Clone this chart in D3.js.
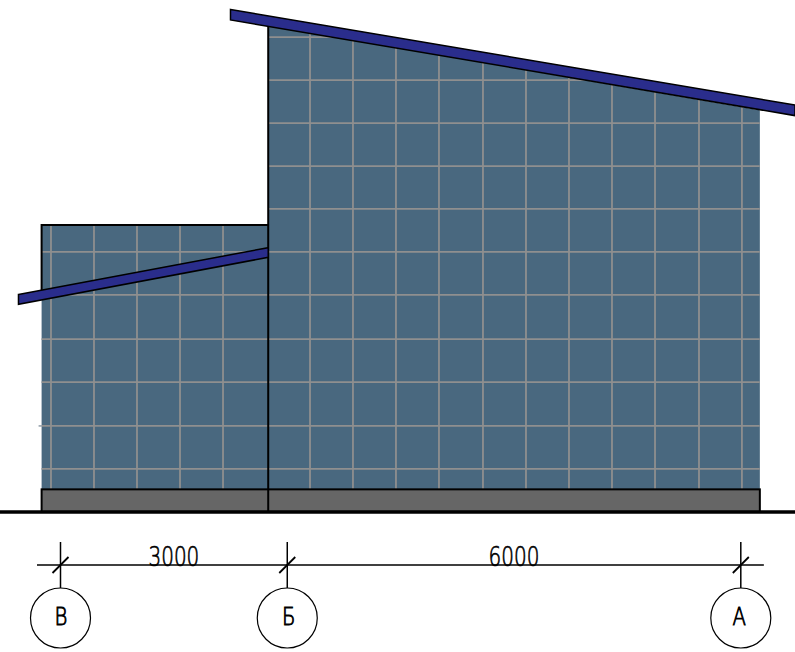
<!DOCTYPE html>
<html>
<head>
<meta charset="utf-8">
<script src="https://d3js.org/d3.v7.min.js"></script>
<style>
html, body { margin: 0; padding: 0; background: #fff; overflow: hidden; }
svg { display: block; }
text { font-family: "DejaVu Sans", sans-serif; fill: #000; text-anchor: middle; }
</style>
</head>
<body>
<div id="drawing"></div>
<script>
// all values in mm
var axisNames = ["В", "Б", "А"];
var axisPositions = [0, 3000, 9000];
var spanLabels = ["3000", "6000"];

var lowWallX = [-250, 2748];
var lowWallTop = 3800;
var highWallX = [2748, 9252];
var highWallTop = [6440, 5320];
var plinthHeight = 300;

var lowGridX = [-126, 443, 1012, 1581, 2150];
var lowGridY = [570, 1140, 1720, 2290, 2875, 3445];
var highGridX = [3301, 3869, 4438, 5007, 5589, 6158, 6727, 7296, 7865, 8447, 9015];
var highGridY = [570, 1140, 1720, 2290, 2875, 3445, 4015, 4580, 5150, 5720, 6290];
var gridStub = [-290, -250, 1140];

var upperRoofX = [2249, 9717, 9717, 2249];
var upperRoofY = [6656, 5391, 5250, 6517];
var lowerRoofX = [-556, 2748, 2748, -556];
var lowerRoofY = [2881, 3501, 3373, 2751];

var svgWidth = 795;
var svgHeight = 652;
var groundY = 512;
var dimY = 565;
var bubbleY = 618;
// letters are not quite centred in their bubbles
var nameShift = [0.5, 1.5, -1.5];

var svg = d3.select("#drawing")
    .append("svg")
    .attr("width", svgWidth)
    .attr("height", svgHeight);

// same scale on both directions, about 0.0755 px per mm
var xScale = d3.scaleLinear().domain([0, 9000]).range([60.5, 740.8]);
var yScale = d3.scaleLinear().domain([0, 6000]).range([groundY, groundY - 453]);

function polygonPath(xs, ys) {
    return d3.line().x(d => xScale(d[0])).y(d => yScale(d[1]))(d3.zip(xs, ys)) + "Z";
}

var lowWall = polygonPath(
    [lowWallX[0], lowWallX[1], lowWallX[1], lowWallX[0]],
    [0, 0, lowWallTop, lowWallTop]);
var highWall = polygonPath(
    [highWallX[0], highWallX[1], highWallX[1], highWallX[0]],
    [0, 0, highWallTop[1], highWallTop[0]]);

var defs = svg.append("defs");
defs.append("clipPath").attr("id", "lowClip").append("path").attr("d", lowWall);
defs.append("clipPath").attr("id", "highClip").append("path").attr("d", highWall);

// wall cladding
function drawWall(path, clipId, gridX, gridY) {
    svg.append("path").attr("d", path).attr("fill", "#49687f");

    var grid = svg.append("g")
        .attr("clip-path", `url(#${clipId})`)
        .attr("stroke", "#8f8f8f")
        .attr("stroke-width", 1.8);

    grid.selectAll(".v")
        .data(gridX)
        .enter()
        .append("line")
        .attr("x1", d => xScale(d))
        .attr("x2", d => xScale(d))
        .attr("y1", 0)
        .attr("y2", svgHeight);

    grid.selectAll(".h")
        .data(gridY)
        .enter()
        .append("line")
        .attr("x1", 0)
        .attr("x2", svgWidth)
        .attr("y1", d => yScale(d))
        .attr("y2", d => yScale(d));
}

drawWall(lowWall, "lowClip", lowGridX, lowGridY);
drawWall(highWall, "highClip", highGridX, highGridY);

// small overshoot of one grid line past the left wall
svg.append("line")
    .attr("x1", xScale(gridStub[0]))
    .attr("x2", xScale(gridStub[1]))
    .attr("y1", yScale(gridStub[2]))
    .attr("y2", yScale(gridStub[2]))
    .attr("stroke", "#8f9ba6")
    .attr("stroke-width", 1.5);

// outline of the low wall, only down to the roof on the left side
svg.append("path")
    .attr("d", d3.line()([
        [xScale(lowWallX[0]), yScale(lowerRoofY[0] + 50)],
        [xScale(lowWallX[0]), yScale(lowWallTop)],
        [xScale(lowWallX[1]), yScale(lowWallTop)]
    ]))
    .attr("fill", "none")
    .attr("stroke", "#000")
    .attr("stroke-width", 2);

// plinth
svg.append("rect")
    .attr("x", xScale(lowWallX[0]))
    .attr("y", yScale(plinthHeight))
    .attr("width", xScale(highWallX[1]) - xScale(lowWallX[0]))
    .attr("height", yScale(0) - yScale(plinthHeight))
    .attr("fill", "#666")
    .attr("stroke", "#000")
    .attr("stroke-width", 2);

// wall between the two volumes
svg.append("line")
    .attr("x1", xScale(highWallX[0]))
    .attr("x2", xScale(highWallX[0]))
    .attr("y1", yScale(highWallTop[0]))
    .attr("y2", yScale(0))
    .attr("stroke", "#000")
    .attr("stroke-width", 2);

// roofs
[[upperRoofX, upperRoofY], [lowerRoofX, lowerRoofY]].forEach(function (roof) {
    svg.append("path")
        .attr("d", polygonPath(roof[0], roof[1]))
        .attr("fill", "#2a2d8c")
        .attr("stroke", "#000")
        .attr("stroke-width", 1.5);
});

// ground
svg.append("line")
    .attr("x1", 0)
    .attr("x2", svgWidth)
    .attr("y1", yScale(0))
    .attr("y2", yScale(0))
    .attr("stroke", "#000")
    .attr("stroke-width", 3.5);

// dimension line, drawn as an axis
var dimScale = d3.scaleLinear()
    .domain([-311, 9305])
    .range([xScale(-311), xScale(9305)]);

var dimAxis = d3.axisBottom(dimScale)
    .tickValues(axisPositions)
    .tickSizeOuter(0)
    .tickFormat("")
    .offset(0);

var dimGroup = svg.append("g")
    .attr("transform", `translate(0, ${dimY})`)
    .call(dimAxis);

dimGroup.select(".domain").attr("stroke", "#000").attr("stroke-width", 1.5);
dimGroup.selectAll(".tick line")
    .attr("y1", -23)
    .attr("y2", bubbleY - 30 - dimY)
    .attr("stroke", "#000")
    .attr("stroke-width", 1.5);
dimGroup.selectAll(".tick")
    .append("line")
    .attr("x1", -8)
    .attr("x2", 8)
    .attr("y1", 8)
    .attr("y2", -8)
    .attr("stroke", "#000")
    .attr("stroke-width", 1.8);

// span labels sit between the gridline bubbles
spanLabels.forEach(function (label, i) {
    var mid = (xScale(axisPositions[i]) + xScale(axisPositions[i + 1])) / 2;
    svg.append("text")
        .attr("transform", `translate(${mid}, ${dimY + 1}) scale(0.74, 1)`)
        .attr("font-size", 27)
        .attr("font-weight", 200)
        .attr("stroke", "#000")
        .attr("stroke-width", 0.7)
        .text(label);
});

// bubbles
var bubbles = svg.selectAll(".bubble")
    .data(axisPositions)
    .enter()
    .append("g")
    .attr("class", "bubble")
    .attr("transform", d => `translate(${xScale(d)}, ${bubbleY})`);

bubbles.append("circle")
    .attr("r", 30)
    .attr("fill", "#fff")
    .attr("stroke", "#000")
    .attr("stroke-width", 1.2);

bubbles.append("text")
    .attr("transform", (d, i) => `translate(${nameShift[i]}, 7) scale(0.82, 1)`)
    .attr("font-size", 24)
    .attr("font-weight", 200)
    .attr("stroke", "#000")
    .attr("stroke-width", 0.9)
    .text((d, i) => axisNames[i]);
</script>
</body>
</html>
